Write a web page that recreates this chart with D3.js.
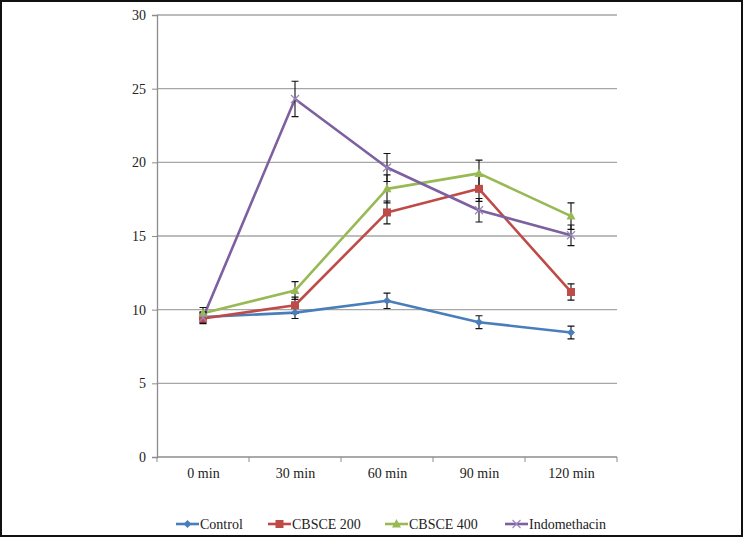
<!DOCTYPE html>
<html><head><meta charset="utf-8">
<script src="https://cdn.jsdelivr.net/npm/d3@7"></script>
<style>body{margin:0;background:#fff}svg{display:block}</style>
</head><body>
<svg id="c" width="743" height="538"></svg>
<script>
const categories = ["0 min","30 min","60 min","90 min","120 min"];
const yTicks = [0,5,10,15,20,25,30];
const seriesNames = ["Control","CBSCE 200","CBSCE 400","Indomethacin"];
const control = [9.5, 9.8, 10.6, 9.15, 8.45];
const cbsce200 = [9.4, 10.3, 16.6, 18.2, 11.2];
const cbsce400 = [9.75, 11.3, 18.2, 19.25, 16.35];
const indomethacin = [9.45, 24.3, 19.65, 16.75, 15.05];
const errControl = [0.35, 0.4, 0.52, 0.44, 0.43];
const err200 = [0.35, 0.55, 0.78, 0.85, 0.55];
const err400 = [0.4, 0.6, 0.95, 0.9, 0.9];
const errIndo = [0.35, 1.2, 0.95, 0.8, 0.7];
const colors = ["#4a7ebb","#be4b48","#98b954","#7d60a0"];
const markerColors = ["#4a7ebb","#be4b48","#98b954","#9b87c0"];
const markers = ["diamond","square","triangle","x"];

// pick an installed serif font
const cv = document.createElement("canvas").getContext("2d");
function has(f){
  const s="Indomethacin CBSCE 0123";
  cv.font="20px monospace"; const a=cv.measureText(s).width;
  cv.font=`20px "${f}", monospace`; const b=cv.measureText(s).width;
  return a!==b;
}
const cands=["Liberation Serif","Tinos","Times New Roman","DejaVu Serif","Noto Serif","FreeSerif"];
const FONT = (cands.find(has) ? `"${cands.find(has)}"` : "serif");

const svg = d3.select("#c");
const x = d3.scalePoint().domain(categories).range([157,617]).padding(0.5);
const y = d3.scaleLinear().domain([0,30]).range([457,15]);
const step = x.step();

svg.append("g").selectAll("line").data(yTicks.filter(d=>d>0)).join("line")
  .attr("x1",157).attr("x2",617).attr("y1",d=>y(d)).attr("y2",d=>y(d))
  .attr("stroke","#a6a6a6").attr("stroke-width",1.3);

const ya = svg.append("g").attr("transform","translate(157,0)")
  .call(d3.axisLeft(y).tickValues(yTicks).tickSize(5).tickPadding(6));
ya.attr("font-family",FONT).attr("font-size",14);
ya.select(".domain").attr("stroke","#8c8c8c").attr("stroke-width",1.3);
ya.selectAll(".tick line").attr("stroke","#8c8c8c");
ya.selectAll("text").attr("fill","#222").style("font-family",FONT).style("font-size","14px");

const xa = svg.append("g").attr("transform","translate(0,457)")
  .call(d3.axisBottom(x).tickSize(0).tickPadding(11));
xa.attr("font-family",FONT).attr("font-size",14);
xa.select(".domain").attr("stroke","#8c8c8c").attr("stroke-width",1.3).attr("d","M157,0H617");
xa.selectAll("text").attr("fill","#222").style("font-family",FONT).style("font-size","14px");
const bounds = d3.range(categories.length+1).map(i=>157+i*step);
xa.selectAll(".bt").data(bounds).join("line").attr("class","bt")
  .attr("x1",d=>d).attr("x2",d=>d).attr("y1",0).attr("y2",5).attr("stroke","#8c8c8c");

const data = [control,cbsce200,cbsce400,indomethacin];
const errs = [errControl,err200,err400,errIndo];

function drawMarker(g, type, cx, cy, i){
  if(type==="diamond"){
    g.append("path").attr("d",`M${cx},${cy-4}L${cx+4},${cy}L${cx},${cy+4}L${cx-4},${cy}Z`).attr("fill",markerColors[i]);
  } else if(type==="square"){
    g.append("rect").attr("x",cx-4).attr("y",cy-4).attr("width",8).attr("height",8).attr("fill",markerColors[i]);
  } else if(type==="triangle"){
    g.append("path").attr("d",`M${cx},${cy-5}L${cx+4.5},${cy+3.5}L${cx-4.5},${cy+3.5}Z`).attr("fill",markerColors[i]);
  } else {
    g.append("path").attr("d",`M${cx-4},${cy-4}L${cx+4},${cy+4}M${cx-4},${cy+4}L${cx+4},${cy-4}`).attr("stroke",markerColors[i]).attr("stroke-width",1.2);
  }
}

const line = d3.line().x((d,j)=>x(categories[j])).y(d=>y(d));
data.forEach((s,i)=>{
  svg.append("path").datum(s).attr("d",line).attr("fill","none")
    .attr("stroke",colors[i]).attr("stroke-width",2.6).attr("stroke-linejoin","round");
});
data.forEach((s,i)=>{
  const g = svg.append("g");
  s.forEach((v,j)=>{
    const cx = x(categories[j]);
    const e = errs[i][j];
    g.append("path").attr("d",`M${cx},${y(v+e)}V${y(v-e)}M${cx-3.5},${y(v+e)}H${cx+3.5}M${cx-3.5},${y(v-e)}H${cx+3.5}`)
      .attr("stroke","#111").attr("stroke-width",1.1).attr("fill","none");
  });
});
data.forEach((s,i)=>{
  const g = svg.append("g");
  s.forEach((v,j)=>drawMarker(g, markers[i], x(categories[j]), y(v), i));
});

const legX = [176,268,385,505];
const lg = svg.append("g");
seriesNames.forEach((n,i)=>{
  const lx = legX[i], ly = 524;
  lg.append("line").attr("x1",lx).attr("x2",lx+23).attr("y1",ly).attr("y2",ly)
    .attr("stroke",colors[i]).attr("stroke-width",2.6);
  drawMarker(lg, markers[i], lx+11.5, ly, i);
  lg.append("text").attr("x",lx+24).attr("y",ly).attr("dy","0.35em")
    .attr("fill","#222").style("font-family",FONT).style("font-size","14px").text(n);
});

svg.append("rect").attr("x",1).attr("y",1).attr("width",741).attr("height",535)
  .attr("fill","none").attr("stroke","#111").attr("stroke-width",2);
</script>
</body></html>
